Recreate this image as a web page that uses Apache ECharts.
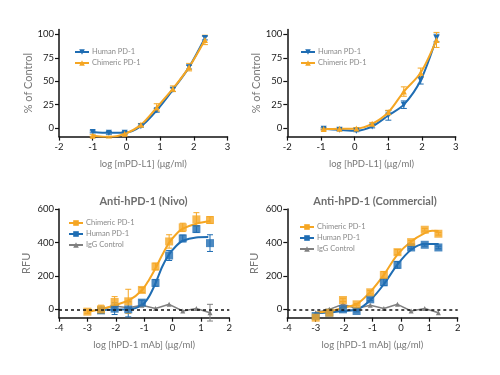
<!DOCTYPE html>
<html>
<head>
<meta charset="utf-8">
<script src="https://cdn.jsdelivr.net/npm/echarts@6/dist/echarts.min.js"></script>
<style>
  html, body { margin: 0; padding: 0; background: #fff; }
  #chart { width: 500px; height: 375px; }
</style>
</head>
<body>
<div id="chart"></div>
<script>
// top row: % of control vs log [PD-L1]
var tlX = [-1, -0.52, -0.05, 0.43, 0.9, 1.38, 1.86, 2.33];
var tlHuman = [-4, -5, -5, 2, 19, 41, 65, 96];
var tlHumanErr = [1, 1.5, 1.5, 1, 2, 2, 2, 2];
var tlChim = [-8, -9.5, -6, 3.5, 22, 42, 65, 94];
var tlChimErr = [1, 1, 1.5, 1.5, 4, 3, 4, 5];

var trX = [-0.92, -0.45, 0.05, 0.52, 1.0, 1.46, 1.96, 2.43];
var trHuman = [-0.7, -1.8, -2.8, 1.8, 13.5, 25, 51, 96];
var trHumanErr = [1, 1, 1, 1.5, 5, 4, 4, 4];
var trChim = [-1, -0.7, -0.4, 4.6, 17, 39, 59, 94];
var trChimErr = [1, 1, 1, 1.5, 2, 5, 5, 8];

// bottom row: RFU vs log [hPD-1 mAb]
var bX = [-3, -2.52, -2.04, -1.56, -1.08, -0.6, -0.12, 0.36, 0.84, 1.32];

var blChim = [-14, 0, 44, 48, 116, 256, 406, 490, 538, 534];
var blChimErr = [10, 25, 32, 72, 15, 20, 40, 25, 40, 20];
var blHuman = [null, -6, 4, 0, 40, 158, 322, 424, 480, 396];
var blHumanErr = [0, 10, 35, 45, 15, 20, 30, 20, 20, 50];
var blIgg = [null, 0, 20, 10, 25, 5, 30, -10, 5, -20];
var blIggErr = [0, 0, 0, 0, 0, 0, 0, 0, 0, 50];

var brChim = [-50, -20, 56, 30, 102, 206, 342, 402, 476, 452];
var brChimErr = [5, 5, 10, 5, 10, 20, 15, 10, 8, 8];
var brHuman = [-40, -20, 0, -10, 60, 162, 266, 370, 386, 370];
var brHumanErr = [5, 5, 10, 5, 8, 20, 20, 8, 8, 8];
var brIgg = [-20, 0, 30, 5, 25, 5, 30, -10, 5, -20];
var brIggErr = [0, 0, 0, 0, 0, 0, 0, 0, 0, 0];

// fitted curves
var blChimFitX = [-3, -2.5, -2.0, -1.51, -1.07, -0.83, -0.6, -0.36, -0.13, 0.11, 0.36, 0.83, 1.33];
var blChimFit = [-14, 2, 26, 56, 116, 176, 246, 326, 396, 446, 482, 512, 528];
var blHumanFitX = [-2.5, -2.0, -1.51, -1.07, -0.83, -0.6, -0.36, -0.13, 0.11, 0.36, 0.83, 1.26];
var blHumanFit = [-4, -2, 0, 26, 76, 156, 256, 326, 376, 410, 430, 432];
var brChimFitX = [-3, -2.5, -2.0, -1.51, -1.07, -0.6, -0.13, 0.36, 0.84, 1.1, 1.33];
var brChimFit = [-20, -10, 10, 36, 106, 206, 326, 406, 456, 470, 468];
var brHumanFitX = [-3, -2.5, -2.0, -1.51, -1.07, -0.6, -0.13, 0.36, 0.84, 1.33];
var brHumanFit = [-24, -18, -10, 2, 56, 150, 266, 356, 390, 390];

var pctTicks = [0, 25, 50, 75, 100];
var rfuTicks = [0, 200, 400, 600];

var BLUE = '#1f6db3', ORANGE = '#f5a623', GRAY = '#808080';
var FONT = 'Lato';

function pairs(xs, ys) {
    var out = [];
    for (var i = 0; i < xs.length; i++) {
        if (ys[i] !== null) out.push([xs[i], ys[i]]);
    }
    return out;
}

function triples(xs, ys, es) {
    var out = [];
    for (var i = 0; i < xs.length; i++) {
        if (ys[i] !== null && es[i] > 0) out.push([xs[i], ys[i], es[i]]);
    }
    return out;
}

function errBars(idx, xs, ys, es, color) {
    return {
        type: 'custom', xAxisIndex: idx, yAxisIndex: idx, z: 1, silent: true,
        data: triples(xs, ys, es),
        renderItem: function (params, api) {
            var x = api.value(0), y = api.value(1), e = api.value(2);
            var lo = api.coord([x, y - e]), hi = api.coord([x, y + e]);
            var w = 3;
            var st = { stroke: color, lineWidth: 1 };
            return {
                type: 'group', children: [
                    { type: 'line', shape: { x1: lo[0], y1: lo[1], x2: hi[0], y2: hi[1] }, style: st },
                    { type: 'line', shape: { x1: hi[0] - w, y1: hi[1], x2: hi[0] + w, y2: hi[1] }, style: st },
                    { type: 'line', shape: { x1: lo[0] - w, y1: lo[1], x2: lo[0] + w, y2: lo[1] }, style: st }
                ]
            };
        }
    };
}

function lineSeries(idx, name, data, color, symbol, opts) {
    opts = opts || {};
    return {
        type: 'line', name: name, xAxisIndex: idx, yAxisIndex: idx, z: 3,
        data: data,
        smooth: opts.smooth === undefined ? 0.3 : opts.smooth,
        symbol: symbol, symbolSize: opts.symbolSize || 6,
        symbolRotate: opts.rotate || 0,
        showSymbol: opts.showSymbol === undefined ? true : opts.showSymbol,
        lineStyle: { color: color, width: opts.width || 2 },
        itemStyle: { color: color },
        markLine: opts.markLine
    };
}

function dotsSeries(idx, data, color, symbol, size) {
    return {
        type: 'scatter', xAxisIndex: idx, yAxisIndex: idx, z: 4, silent: true,
        data: data, symbol: symbol, symbolSize: size,
        itemStyle: { color: color }
    };
}

function legend(names, left, top) {
    return {
        data: names, left: left, top: top, orient: 'vertical',
        itemWidth: 14, itemHeight: 7, itemGap: 3, padding: 0,
        selectedMode: false,
        formatter: function (n) { return n.split('#')[0]; },
        textStyle: { fontFamily: FONT, fontSize: 7.5, color: '#8a8a8a', padding: [0, 0, 0, -2] }
    };
}

var grids = [
    { left: 59, top: 29.6, width: 168.5, height: 107 },
    { left: 287.3, top: 29.6, width: 168.4, height: 107 },
    { left: 59, top: 209, width: 170.3, height: 108.7 },
    { left: 287.3, top: 209, width: 170.4, height: 108.7 }
];

var axisLine = { show: true, onZero: false, lineStyle: { color: '#111', width: 1.5 } };
var axisTick = { show: true, length: 4, lineStyle: { color: '#111', width: 1.2 } };
var labelStyle = { fontFamily: FONT, fontSize: 9.5, color: '#1a1a1a', margin: 5 };
var nameStyle = { fontFamily: FONT, fontSize: 9.5, color: '#777' };

function xAxis(idx, min, max, name) {
    return {
        type: 'value', gridIndex: idx, min: min, max: max, interval: 1,
        name: name, nameLocation: 'middle', nameGap: 22, nameTextStyle: nameStyle,
        axisLine: axisLine, axisTick: axisTick,
        axisLabel: labelStyle, splitLine: { show: false }
    };
}

function yAxis(idx, min, max, ticks, name, gap) {
    return {
        type: 'value', gridIndex: idx, min: min, max: max,
        name: name, nameLocation: 'middle', nameGap: gap,
        nameTextStyle: Object.assign({}, nameStyle, { fontSize: 11 }),
        axisLine: axisLine,
        axisTick: Object.assign({ customValues: ticks }, axisTick),
        axisLabel: Object.assign({ customValues: ticks }, labelStyle),
        splitLine: { show: false }
    };
}

var zeroLine = {
    silent: true, symbol: 'none', label: { show: false },
    lineStyle: { color: '#111', type: [3, 3], width: 1.5 },
    data: [{ yAxis: 0 }]
};

var titleFont = 'bold 11px ' + FONT;

var option = {
    backgroundColor: '#fff',
    animation: false,
    graphic: [
        { type: 'text', x: 143.5, y: 201, style: { text: 'Anti-hPD-1 (Nivo)', font: titleFont,
          fill: '#6e6e6e', align: 'center', verticalAlign: 'middle' } },
        { type: 'text', x: 375, y: 201, style: { text: 'Anti-hPD-1 (Commercial)', font: titleFont,
          fill: '#6e6e6e', align: 'center', verticalAlign: 'middle' } }
    ],
    legend: [
        legend(['Human PD-1#tl', 'Chimeric PD-1#tl'], 74, 48),
        legend(['Human PD-1#tr', 'Chimeric PD-1#tr'], 300, 48),
        legend(['Chimeric PD-1#bl', 'Human PD-1#bl', 'IgG Control#bl'], 68, 219),
        legend(['Chimeric PD-1#br', 'Human PD-1#br', 'IgG Control#br'], 299, 223)
    ],
    grid: grids,
    xAxis: [
        xAxis(0, -2, 3, 'log [mPD-L1] (μg/ml)'),
        xAxis(1, -2, 3, 'log [hPD-L1] (μg/ml)'),
        xAxis(2, -4, 2, 'log [hPD-1 mAb] (μg/ml)'),
        xAxis(3, -4, 2, 'log [hPD-1 mAb] (μg/ml)')
    ],
    yAxis: [
        yAxis(0, -9, 105, pctTicks, '% of Control', 24),
        yAxis(1, -9, 105, pctTicks, '% of Control', 24),
        yAxis(2, -50, 600, rfuTicks, 'RFU', 27),
        yAxis(3, -50, 600, rfuTicks, 'RFU', 27)
    ],
    series: [
        // top left
        errBars(0, tlX, tlHuman, tlHumanErr, BLUE),
        errBars(0, tlX, tlChim, tlChimErr, ORANGE),
        lineSeries(0, 'Human PD-1#tl', pairs(tlX, tlHuman), BLUE, 'triangle', { rotate: 180 }),
        lineSeries(0, 'Chimeric PD-1#tl', pairs(tlX, tlChim), ORANGE, 'triangle'),
        // top right
        errBars(1, trX, trHuman, trHumanErr, BLUE),
        errBars(1, trX, trChim, trChimErr, ORANGE),
        lineSeries(1, 'Human PD-1#tr', pairs(trX, trHuman), BLUE, 'triangle', { rotate: 180 }),
        lineSeries(1, 'Chimeric PD-1#tr', pairs(trX, trChim), ORANGE, 'triangle'),
        // bottom left
        errBars(2, bX, blIgg, blIggErr, GRAY),
        lineSeries(2, 'IgG Control#bl', pairs(bX, blIgg), GRAY, 'triangle',
            { smooth: false, width: 1.5, symbolSize: 5, markLine: zeroLine }),
        errBars(2, bX, blHuman, blHumanErr, BLUE),
        errBars(2, bX, blChim, blChimErr, ORANGE),
        lineSeries(2, 'Human PD-1#bl', pairs(blHumanFitX, blHumanFit), BLUE, 'rect', { showSymbol: false, symbolSize: 7 }),
        lineSeries(2, 'Chimeric PD-1#bl', pairs(blChimFitX, blChimFit), ORANGE, 'rect', { showSymbol: false, symbolSize: 7 }),
        dotsSeries(2, pairs(bX, blHuman), BLUE, 'rect', 8),
        dotsSeries(2, pairs(bX, blChim), ORANGE, 'rect', 8),
        // bottom right
        errBars(3, bX, brIgg, brIggErr, GRAY),
        lineSeries(3, 'IgG Control#br', pairs(bX, brIgg), GRAY, 'triangle',
            { smooth: false, width: 1.5, symbolSize: 5, markLine: zeroLine }),
        errBars(3, bX, brHuman, brHumanErr, BLUE),
        errBars(3, bX, brChim, brChimErr, ORANGE),
        lineSeries(3, 'Human PD-1#br', pairs(brHumanFitX, brHumanFit), BLUE, 'rect', { showSymbol: false, symbolSize: 7 }),
        lineSeries(3, 'Chimeric PD-1#br', pairs(brChimFitX, brChimFit), ORANGE, 'rect', { showSymbol: false, symbolSize: 7 }),
        dotsSeries(3, pairs(bX, brHuman), BLUE, 'rect', 8),
        dotsSeries(3, pairs(bX, brChim), ORANGE, 'rect', 8)
    ]
};

var chart = echarts.init(document.getElementById('chart'));
chart.setOption(option);
</script>
</body>
</html>
